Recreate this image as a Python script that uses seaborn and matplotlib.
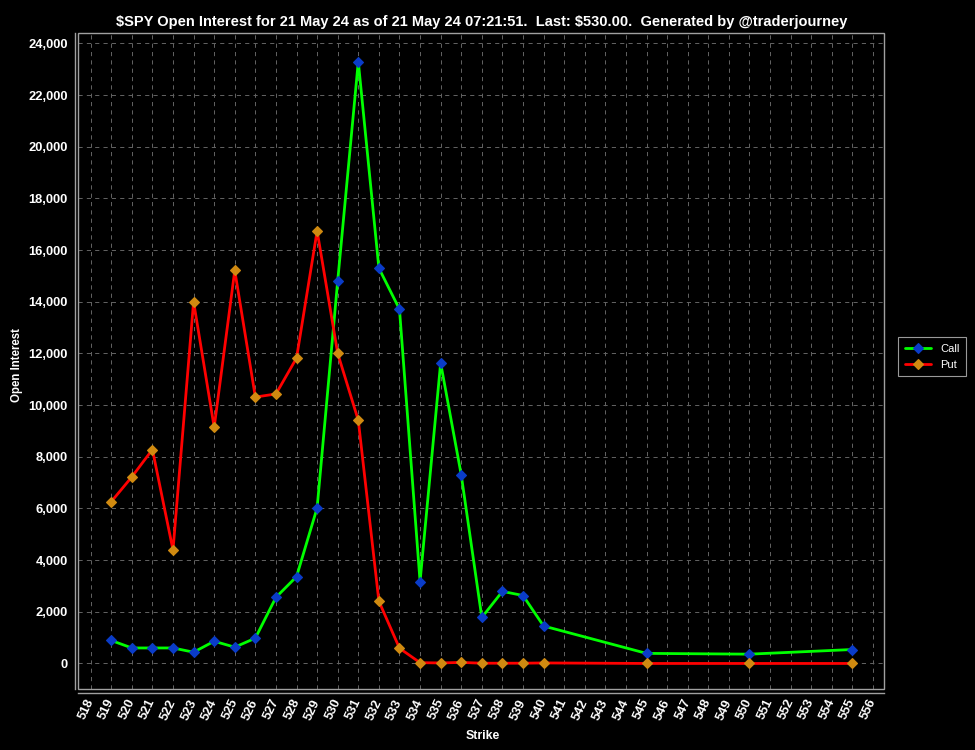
import matplotlib
matplotlib.use("Agg")
import matplotlib.pyplot as plt
import matplotlib.ticker as mticker
from matplotlib.patches import Rectangle
import seaborn as sns
import pandas as pd

# ---- data ----
strikes = [519, 520, 521, 522, 523, 524, 525, 526, 527, 528, 529, 530, 531,
           532, 533, 534, 535, 536, 537, 538, 539, 540, 545, 550, 555]
call_oi = [890, 600, 600, 600, 436, 860, 630, 980, 2560, 3360, 6020, 14810, 23290,
           15300, 13710, 3170, 11630, 7300, 1780, 2790, 2630, 1450, 390, 360, 540]
put_oi = [6260, 7220, 8280, 4390, 14000, 9140, 15210, 10310, 10430, 11820, 16740, 12000, 9410,
          2410, 590, 30, 20, 40, 10, 10, 10, 20, 0, 0, 0]
x_ticks = list(range(518, 557))
y_ticks = list(range(0, 24001, 2000))
series_names = ["Call", "Put"]
title = ("\\$SPY Open Interest for 21 May 24 as of 21 May 24 07:21:51.  "
         "Last: \\$530.00.  Generated by @traderjourney")

df_call = pd.DataFrame({"Strike": strikes, "OI": call_oi})
df_put = pd.DataFrame({"Strike": strikes, "OI": put_oi})

sns.set_style("dark")
plt.rcParams["font.family"] = ["Liberation Sans", "DejaVu Sans"]
plt.rcParams["lines.scale_dashes"] = False

W, H = 975, 750
fig = plt.figure(figsize=(W / 100, H / 100), dpi=100, facecolor="black")
left, right, top, bottom = 78.3, 884.3, 33.0, 689.3
ax = fig.add_axes([left / W, 1 - bottom / H, (right - left) / W, (bottom - top) / H])
ax.set_facecolor("black")

sns.lineplot(data=df_call, x="Strike", y="OI", ax=ax, color="#00ff00", linewidth=2,
             marker="D", markersize=5.2, markerfacecolor="#0a3cc8",
             markeredgecolor="#0a3cc8", markeredgewidth=0.8, label=series_names[0], zorder=3)
sns.lineplot(data=df_put, x="Strike", y="OI", ax=ax, color="#ff0000", linewidth=2,
             marker="D", markersize=5.2, markerfacecolor="#d08a10",
             markeredgecolor="#d08a10", markeredgewidth=0.8, label=series_names[1], zorder=3)

ax.set_xlim(517.4, 556.55)
ax.set_ylim(-1000, 24400)
ax.set_xticks(x_ticks)
ax.set_xticklabels([str(v) for v in x_ticks])
ax.set_yticks(y_ticks)
ax.yaxis.set_major_formatter(mticker.FuncFormatter(lambda v, p: f"{int(v):,}"))

ax.grid(True, color="#646464", linewidth=0.7, linestyle=(0, (3, 3)))
ax.set_axisbelow(True)

for s in ["top", "right"]:
    ax.spines[s].set_visible(False)
for s in ["left", "bottom"]:
    ax.spines[s].set_position(("outward", 2.5))
    ax.spines[s].set_color("#a0a0a0")
    ax.spines[s].set_linewidth(1.0)
ax.add_patch(Rectangle((0, 0), 1, 1, transform=ax.transAxes, fill=False,
                       edgecolor="#a0a0a0", linewidth=1.0, clip_on=False, zorder=5))

ax.tick_params(axis="both", which="both", direction="out", length=3, width=0.8,
               color="#a0a0a0", labelcolor="white", labelsize=9.3, pad=2)
ax.tick_params(axis="x", pad=2)
for lab in ax.get_yticklabels():
    lab.set_fontweight("bold")
for lab in ax.get_xticklabels():
    lab.set_fontweight("bold")
    lab.set_rotation(65)
    lab.set_ha("right")
    lab.set_va("center")
    lab.set_rotation_mode("anchor")

ax.set_xlabel("")
ax.set_ylabel("")
fig.text(482 / W, 1 - 22 / H, title, ha="center", va="center", color="white",
         fontsize=10.5, fontweight="bold")
fig.text(17 / W, 1 - 365 / H, "Open Interest", ha="center", va="center", rotation=90,
         color="white", fontsize=8.3, fontweight="bold")
fig.text(483 / W, 1 - 736 / H, "Strike", ha="center", va="center",
         color="white", fontsize=8.8, fontweight="bold")

leg = ax.legend(loc="upper left", bbox_to_anchor=(898 / W, 1 - 337 / H),
                bbox_transform=fig.transFigure, frameon=True, fancybox=False,
                fontsize=8, handlelength=2.4, handletextpad=0.8, labelspacing=0.55,
                borderpad=0.6, borderaxespad=0)
leg.get_frame().set_facecolor("black")
leg.get_frame().set_edgecolor("#c0c0c0")
leg.get_frame().set_linewidth(0.8)
for t in leg.get_texts():
    t.set_color("white")

fig.savefig("out.png", dpi=100, facecolor="black")
